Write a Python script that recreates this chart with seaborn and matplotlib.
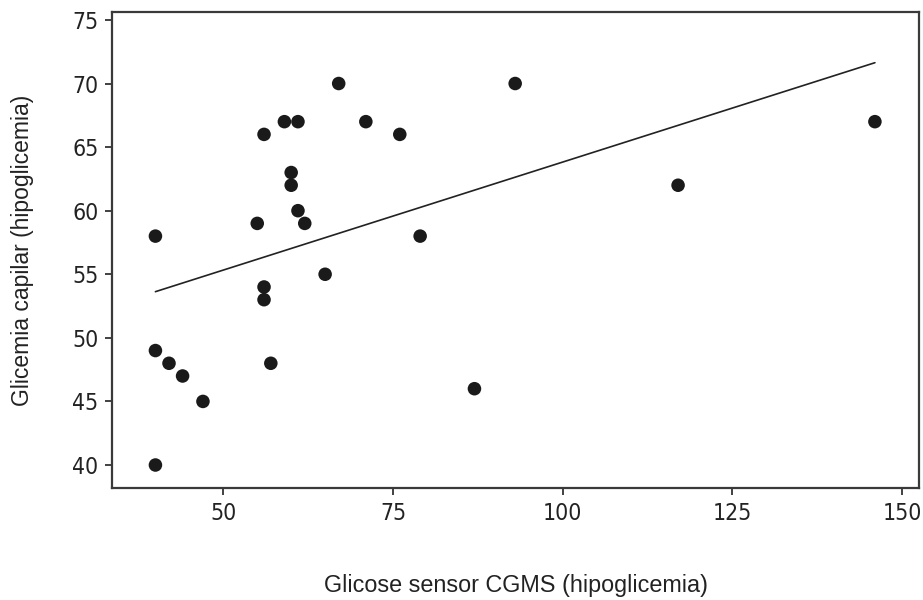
import numpy as np
import pandas as pd
import matplotlib
matplotlib.use('Agg')
import matplotlib.pyplot as plt
import seaborn as sns

# values
sensor_cgms = [40, 40, 42, 44, 47, 40, 55, 56, 56, 56, 57, 59, 61,
               60, 60, 61, 62, 65, 67, 71, 76, 79, 87, 93, 117, 146]
glicemia_capilar = [58, 49, 48, 47, 45, 40, 59, 66, 54, 53, 48, 67, 67,
                    63, 62, 60, 59, 55, 70, 67, 66, 58, 46, 70, 62, 67]
x_ticks = [50, 75, 100, 125, 150]
y_ticks = [40, 45, 50, 55, 60, 65, 70, 75]


#--------------------------------------------------
def main():
    df = pd.DataFrame({'cgms': sensor_cgms, 'capilar': glicemia_capilar})

    sns.set_theme(style='white')
    plt.rcParams['font.family'] = ['Liberation Sans', 'DejaVu Sans']

    fig = plt.figure(figsize=(9.23, 6), dpi=100)
    ax = fig.add_axes([0.1217, 0.1862, 0.8740, 0.7933])

    sns.regplot(data=df, x='cgms', y='capilar', ax=ax, ci=None,
                scatter_kws={'s': 95, 'color': '#1a1a1a', 'edgecolor': 'none',
                             'alpha': 1},
                line_kws={'color': '#222222', 'linewidth': 1.2})

    ax.set_xlim(33.65, 152.5)
    ax.set_ylim(38.17, 75.6)
    ax.set_xticks(x_ticks)
    ax.set_yticks(y_ticks)

    for lab in ax.get_xticklabels() + ax.get_yticklabels():
        lab.set_family(['Liberation Sans Narrow', 'DejaVu Sans'])
        lab.set_stretch('condensed')
        lab.set_fontsize(16.5)
        lab.set_color('#222222')

    ax.tick_params(axis='both', which='major', length=5, width=1.3,
                   color='#333333', direction='out', bottom=True, left=True,
                   pad=5)
    for sp in ax.spines.values():
        sp.set_color('#3a3a3a')
        sp.set_linewidth(1.6)
        sp.set_visible(True)

    ax.set_xlabel('Glicose sensor CGMS (hipoglicemia)', fontsize=16.8,
                  color='#222222', va='top')
    ax.xaxis.set_label_coords(0.5, -0.18)
    ax.set_ylabel('Glicemia capilar (hipoglicemia)', fontsize=16.5,
                  color='#222222')
    ax.yaxis.set_label_coords(-0.097, 0.5)

    fig.savefig('out.png', dpi=100)


#--------------------------------------------------
if __name__ == '__main__':
    main()
